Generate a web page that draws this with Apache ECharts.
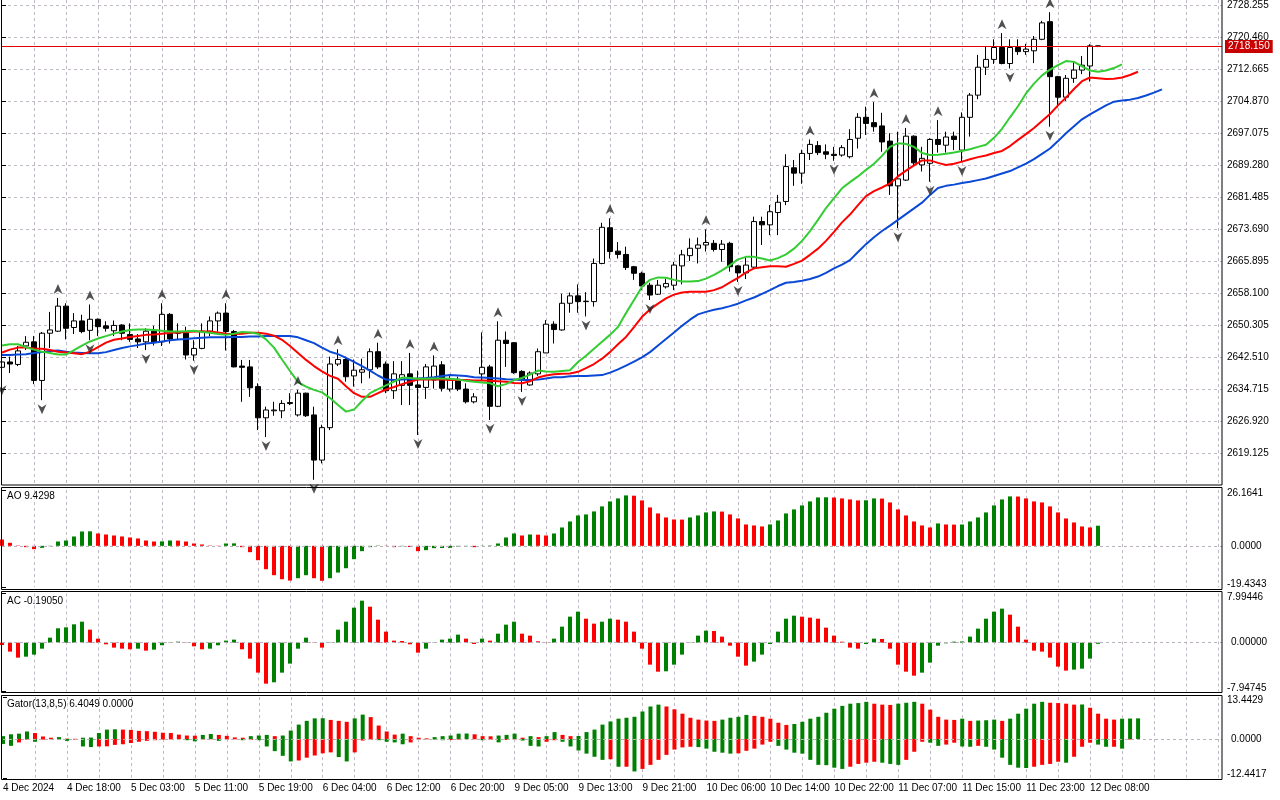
<!DOCTYPE html>
<html>
<head>
<meta charset="utf-8">
<title>XAUUSD H1</title>
<script src="https://cdn.jsdelivr.net/npm/echarts@6/dist/echarts.min.js"></script>
<style>
html, body { margin: 0; padding: 0; background: #fff; }
#chart { width: 1280px; height: 800px; }
</style>
</head>
<body>
<div id="chart"></div>
<script>
// ---- data (H1 bars, 4 Dec 10:00 .. 12 Dec 09:00) ----
var timeLabels = ['4 Dec 2024', '4 Dec 18:00', '5 Dec 03:00', '5 Dec 11:00', '5 Dec 19:00', '6 Dec 04:00',
    '6 Dec 12:00', '6 Dec 20:00', '9 Dec 05:00', '9 Dec 13:00', '9 Dec 21:00', '10 Dec 06:00',
    '10 Dec 14:00', '10 Dec 22:00', '11 Dec 07:00', '11 Dec 15:00', '11 Dec 23:00', '12 Dec 08:00'];

var priceTicks = ['2728.255', '2720.460', '2712.665', '2704.870', '2697.075', '2689.280', '2681.485',
    '2673.690', '2665.895', '2658.100', '2650.305', '2642.510', '2634.715', '2626.920', '2619.125'];

var bidPrice = 2718.15;

var open = [
    2640.0, 2641.3, 2640.7, 2645.2, 2646.2, 2636.8, 2648.3, 2648.8, 2654.9, 2649.7,
    2651.3, 2649.0, 2651.7, 2650.1, 2648.9, 2650.3, 2648.0, 2646.9, 2646.2, 2648.8,
    2646.2, 2652.9, 2648.7, 2648.3, 2643.0, 2644.6, 2648.8, 2651.3, 2653.2, 2648.7,
    2640.3, 2640.1, 2635.3, 2627.7, 2629.4, 2629.4, 2631.4, 2628.4, 2633.7, 2628.4,
    2617.4, 2625.3, 2640.8, 2641.9, 2637.9, 2638.8, 2639.4, 2643.8, 2640.8, 2634.3,
    2635.6, 2638.4, 2635.7, 2635.1, 2636.9, 2640.6, 2634.7, 2637.1, 2634.7, 2631.6,
    2638.4, 2640.1, 2630.5, 2646.6, 2646.0, 2639.0, 2635.7, 2638.4, 2643.5, 2650.5,
    2649.1, 2655.6, 2657.4, 2656.1, 2656.0, 2665.3, 2674.0, 2668.3, 2667.5, 2664.5,
    2662.9, 2660.0, 2657.8, 2659.6, 2660.0, 2664.7, 2667.2, 2669.0, 2669.8, 2670.2,
    2668.7, 2670.2, 2664.7, 2663.0, 2664.4, 2675.5, 2674.7, 2677.7, 2680.4, 2688.6,
    2687.3, 2692.1, 2694.0, 2692.5, 2691.9, 2691.7, 2691.3, 2695.8, 2700.9, 2699.6,
    2698.8, 2695.1, 2684.2, 2685.6, 2696.3, 2689.3, 2689.7, 2695.5, 2694.1, 2696.3,
    2692.9, 2700.9, 2706.3, 2713.1, 2715.0, 2717.9, 2714.0, 2717.9, 2716.9, 2717.1,
    2719.9, 2724.2, 2710.8, 2705.8, 2710.4, 2712.4, 2713.4, 2718.3
];
var close = [
    2641.3, 2640.8, 2644.0, 2646.1, 2636.8, 2648.3, 2649.1, 2654.9, 2649.5, 2651.3,
    2648.7, 2651.7, 2649.9, 2649.5, 2650.2, 2648.3, 2646.8, 2646.2, 2648.8, 2646.2,
    2652.9, 2646.9, 2648.3, 2643.0, 2644.6, 2648.8, 2651.3, 2653.2, 2648.7, 2640.1,
    2640.0, 2635.0, 2627.7, 2629.6, 2629.6, 2631.2, 2631.2, 2633.7, 2628.2, 2617.4,
    2625.3, 2640.8, 2641.9, 2637.7, 2639.3, 2639.4, 2643.8, 2640.1, 2634.3, 2638.4,
    2638.2, 2635.6, 2635.1, 2640.1, 2640.3, 2634.9, 2636.9, 2634.7, 2631.6, 2632.8,
    2640.0, 2630.5, 2646.6, 2645.8, 2638.7, 2636.9, 2638.6, 2643.8, 2650.5, 2649.2,
    2655.6, 2657.4, 2656.0, 2656.0, 2665.3, 2674.1, 2668.2, 2667.5, 2664.3, 2662.9,
    2659.8, 2657.6, 2660.0, 2660.4, 2664.9, 2667.4, 2669.0, 2669.8, 2670.4, 2668.7,
    2670.0, 2664.5, 2663.0, 2664.9, 2675.5, 2674.7, 2677.9, 2680.2, 2688.9, 2687.3,
    2692.1, 2694.3, 2692.3, 2691.9, 2691.6, 2693.5, 2695.5, 2700.9, 2699.4, 2698.6,
    2694.9, 2684.2, 2685.9, 2696.3, 2689.8, 2690.9, 2695.5, 2694.3, 2696.1, 2695.5,
    2700.9, 2706.3, 2713.1, 2715.0, 2717.9, 2714.0, 2717.9, 2716.9, 2717.5, 2719.9,
    2723.9, 2710.8, 2705.8, 2710.4, 2712.4, 2713.6, 2718.3, 2718.15
];
var low = [
    2636.6, 2638.6, 2640.3, 2644.2, 2635.9, 2632.0, 2644.7, 2648.6, 2646.8, 2648.1,
    2648.3, 2646.6, 2647.6, 2648.7, 2647.6, 2646.6, 2646.2, 2644.7, 2644.2, 2645.3,
    2645.2, 2645.8, 2646.8, 2641.9, 2641.6, 2644.4, 2647.6, 2648.7, 2644.1, 2640.0,
    2631.6, 2632.8, 2624.7, 2623.0, 2628.2, 2627.6, 2630.8, 2628.0, 2627.9, 2612.6,
    2616.6, 2624.7, 2640.3, 2636.5, 2635.3, 2636.1, 2637.3, 2639.6, 2633.7, 2632.3,
    2630.8, 2630.8, 2623.5, 2632.3, 2634.8, 2634.1, 2634.1, 2634.2, 2631.2, 2631.2,
    2636.9, 2627.2, 2630.3, 2640.1, 2638.4, 2634.0, 2635.5, 2637.9, 2643.5, 2645.8,
    2648.9, 2653.3, 2653.3, 2652.4, 2654.8, 2665.1, 2666.5, 2666.5, 2663.7, 2661.3,
    2658.8, 2656.4, 2657.6, 2659.2, 2658.8, 2660.2, 2665.9, 2665.3, 2668.2, 2668.2,
    2665.7, 2663.3, 2660.8, 2661.5, 2663.9, 2669.8, 2672.2, 2672.2, 2679.5, 2684.2,
    2684.7, 2690.5, 2691.7, 2690.7, 2690.3, 2691.3, 2690.9, 2693.3, 2696.6, 2697.4,
    2692.5, 2682.0, 2673.9, 2685.4, 2689.0, 2687.7, 2685.2, 2692.3, 2692.3, 2692.9,
    2690.0, 2696.2, 2705.3, 2711.2, 2713.9, 2713.8, 2712.8, 2716.1, 2716.1, 2714.1,
    2719.7, 2698.6, 2703.3, 2704.9, 2709.3, 2711.4, 2709.6, 2718.0
];
var high = [
    2642.0, 2642.6, 2645.2, 2647.6, 2647.6, 2648.6, 2653.5, 2656.9, 2655.6, 2653.2,
    2652.8, 2655.3, 2651.9, 2651.2, 2651.4, 2650.5, 2650.7, 2648.1, 2649.5, 2650.1,
    2655.6, 2653.2, 2650.7, 2649.9, 2646.6, 2650.7, 2652.4, 2653.6, 2655.6, 2649.1,
    2641.8, 2641.8, 2636.1, 2630.4, 2631.6, 2632.0, 2633.7, 2634.5, 2633.8, 2630.4,
    2626.0, 2642.6, 2644.4, 2642.6, 2641.9, 2642.1, 2644.6, 2646.0, 2641.4, 2641.5,
    2641.5, 2643.5, 2639.2, 2640.8, 2642.9, 2641.5, 2637.9, 2637.7, 2636.1, 2633.7,
    2648.5, 2640.6, 2651.2, 2648.7, 2646.1, 2639.3, 2639.0, 2644.6, 2651.5, 2651.2,
    2657.9, 2658.2, 2660.2, 2658.3, 2666.5, 2675.2, 2676.3, 2670.5, 2669.4, 2664.7,
    2663.3, 2660.6, 2661.3, 2661.6, 2665.7, 2668.6, 2671.4, 2671.6, 2673.6, 2671.0,
    2671.0, 2670.6, 2664.9, 2666.9, 2676.7, 2676.7, 2679.5, 2682.0, 2691.9, 2690.5,
    2693.0, 2695.5, 2695.1, 2694.3, 2693.7, 2694.1, 2698.0, 2701.9, 2703.5, 2704.6,
    2702.0, 2697.0, 2697.4, 2698.3, 2696.5, 2693.7, 2695.8, 2700.2, 2697.4, 2697.4,
    2702.1, 2706.8, 2716.1, 2718.1, 2719.9, 2721.4, 2719.9, 2719.9, 2718.8, 2720.7,
    2724.4, 2726.5, 2711.0, 2711.2, 2714.4, 2715.8, 2718.7, 2718.4
];

// Alligator lines, already shifted forward (jaw 8, teeth 5, lips 3 bars)
var jaw = [
    2643.0, 2643.0, 2643.1, 2643.2, 2643.5, 2643.7, 2644.0, 2644.1, 2643.8, 2643.6,
    2643.5, 2643.4, 2643.4, 2643.7, 2644.2, 2644.7, 2645.1, 2645.4, 2645.8, 2646.0,
    2646.3, 2646.6, 2646.8, 2646.9, 2647.1, 2647.2, 2647.3, 2647.3, 2647.3, 2647.4,
    2647.4, 2647.5, 2647.5, 2647.6, 2647.6, 2647.6, 2647.6, 2647.3, 2646.6, 2645.9,
    2644.8, 2643.8, 2643.2, 2642.3, 2641.3, 2640.3, 2639.2, 2638.0, 2637.0, 2636.9,
    2637.0, 2637.1, 2637.3, 2637.4, 2637.6, 2637.9, 2638.1, 2638.0, 2637.9, 2637.6,
    2637.5, 2637.4, 2637.3, 2637.1, 2637.0, 2636.9, 2636.9, 2637.0, 2637.3, 2637.6,
    2637.6, 2637.8, 2637.9, 2637.9, 2638.0, 2638.1, 2638.7, 2639.5, 2640.4, 2641.4,
    2642.4, 2643.7, 2645.3, 2646.9, 2648.5, 2650.1, 2651.6, 2652.9, 2653.5, 2654.0,
    2654.4, 2654.9, 2655.5, 2656.3, 2657.0, 2657.9, 2658.8, 2659.8, 2660.6, 2660.8,
    2661.1, 2661.5, 2662.1, 2663.0, 2664.1, 2665.0, 2666.1, 2668.1, 2670.0, 2671.7,
    2673.2, 2674.5, 2675.9, 2677.3, 2678.7, 2680.1, 2682.0, 2683.7, 2684.2, 2684.5,
    2684.9, 2685.2, 2685.6, 2686.0, 2686.6, 2687.2, 2687.8, 2688.7, 2689.6, 2690.7,
    2692.0, 2693.3, 2695.1, 2697.0, 2698.7, 2700.4, 2701.6, 2702.7, 2703.8, 2704.7,
    2705.0, 2705.2, 2705.6, 2706.2, 2706.9, 2707.7
];
var teeth = [
    2643.6, 2644.3, 2644.8, 2644.8, 2644.6, 2644.5, 2644.2, 2643.8, 2643.6, 2643.4,
    2643.2, 2643.8, 2644.9, 2646.0, 2646.7, 2647.0, 2647.4, 2647.6, 2647.9, 2648.0,
    2648.2, 2648.4, 2648.5, 2648.6, 2648.7, 2648.7, 2648.7, 2648.5, 2648.2, 2648.1,
    2648.2, 2648.4, 2648.4, 2648.2, 2647.7, 2646.7, 2645.2, 2643.5, 2641.8, 2640.3,
    2639.0, 2637.9, 2637.2, 2635.4, 2633.7, 2632.8, 2632.8, 2633.7, 2634.6, 2635.2,
    2635.9, 2636.5, 2637.0, 2637.1, 2637.0, 2637.0, 2636.9, 2636.9, 2636.9, 2636.8,
    2636.8, 2636.7, 2636.6, 2636.5, 2636.2, 2636.1, 2636.6, 2637.5, 2638.0, 2638.3,
    2638.4, 2638.5, 2638.9, 2639.8, 2640.8, 2642.1, 2643.7, 2645.6, 2647.4, 2649.8,
    2652.3, 2654.1, 2655.5, 2656.8, 2657.7, 2658.2, 2658.4, 2658.4, 2658.4, 2658.8,
    2659.5, 2660.7, 2661.8, 2663.1, 2664.1, 2664.4, 2664.6, 2664.6, 2664.5, 2665.2,
    2666.0, 2667.4, 2668.9, 2670.8, 2673.0, 2675.3, 2677.2, 2679.5, 2681.7, 2682.9,
    2683.8, 2684.8, 2686.5, 2687.9, 2689.2, 2690.4, 2690.4, 2689.8, 2689.3, 2689.6,
    2690.1, 2690.7, 2691.2, 2691.6, 2692.2, 2692.7, 2693.9, 2695.4, 2696.8, 2698.3,
    2700.0, 2701.7, 2703.8, 2705.7, 2707.8, 2709.7, 2710.6, 2710.4, 2710.2, 2710.3,
    2710.6, 2711.2, 2712.0
];
var lips = [
    2645.3, 2645.6, 2645.6, 2644.9, 2644.3, 2643.8, 2643.5, 2643.1, 2643.1, 2644.2,
    2645.3, 2646.3, 2647.0, 2647.6, 2648.2, 2648.7, 2649.1, 2649.2, 2649.2, 2649.1,
    2648.9, 2648.7, 2648.7, 2648.8, 2648.9, 2648.6, 2648.4, 2648.1, 2647.9, 2648.2,
    2648.6, 2648.5, 2648.2, 2646.8, 2644.8, 2641.9, 2639.1, 2636.4, 2635.3, 2634.5,
    2633.9, 2632.5, 2630.8, 2629.2, 2629.7, 2631.8, 2633.7, 2634.7, 2635.6, 2636.5,
    2637.5, 2637.4, 2637.2, 2637.2, 2637.3, 2637.3, 2637.2, 2637.0, 2636.7, 2636.5,
    2636.3, 2636.1, 2635.4, 2635.9, 2636.9, 2637.4, 2638.2, 2639.2, 2639.0, 2638.9,
    2639.1, 2639.3, 2641.3, 2642.8, 2644.5, 2646.2, 2647.9, 2649.8, 2653.2, 2656.4,
    2659.6, 2661.3, 2661.9, 2661.8, 2661.3, 2660.9, 2660.9, 2661.0, 2661.6, 2662.5,
    2663.6, 2664.9, 2666.3, 2666.9, 2666.9, 2666.5, 2666.0, 2666.6, 2667.5, 2668.9,
    2670.8, 2673.2, 2675.9, 2678.8, 2681.2, 2683.6, 2685.1, 2686.5, 2688.1, 2689.6,
    2691.5, 2693.7, 2694.6, 2694.4, 2693.7, 2692.2, 2691.7, 2691.8, 2692.0, 2692.3,
    2692.7, 2693.1, 2693.7, 2694.2, 2695.9, 2698.1, 2700.9, 2703.6, 2706.7, 2709.1,
    2711.1, 2712.5, 2713.6, 2714.6, 2714.4, 2713.3, 2712.3, 2712.0, 2712.3, 2712.9,
    2713.8
];

// bar indexes carrying a fractal arrow
var upFractals = [7, 11, 20, 28, 37, 42, 47, 51, 54, 62, 76, 88, 101, 109, 113, 117, 125, 131];
var downFractals = [0, 5, 11, 18, 24, 33, 39, 52, 61, 65, 73, 81, 92, 104, 112, 116, 120, 126, 131];

var ao = [
    2.97, 1.41, 0.16, -0.63, -1.56, -0.94, -0.16, 2.03, 2.50, 4.38,
    6.73, 6.80, 5.79, 5.32, 4.85, 4.38, 3.91, 3.44, 2.50, 2.03,
    2.10, 2.50, 2.45, 2.03, 1.10, 0.63, 0.16, 0.10, 1.10, 1.15,
    -0.63, -2.97, -6.73, -10.95, -13.77, -15.65, -16.28, -15.18, -13.77, -15.18,
    -16.40, -15.18, -12.52, -10.49, -6.26, -2.50, -0.63, 0.15, 0.08, -0.63,
    -0.18, -0.55, -2.50, -2.03, -1.10, -1.02, -0.95, -0.30, -0.20, -0.63,
    -0.10, 0.18, 1.10, 3.91, 5.79, 4.85, 5.32, 5.22, 4.85, 5.79,
    8.61, 11.42, 14.24, 14.71, 16.12, 18.47, 20.81, 22.22, 23.63, 23.50,
    21.28, 18.00, 15.18, 13.30, 12.36, 12.30, 13.30, 14.24, 15.65, 16.12,
    16.05, 14.71, 12.83, 10.02, 9.55, 9.08, 10.02, 11.89, 15.18, 17.06,
    18.94, 20.81, 22.69, 22.75, 22.65, 22.22, 21.75, 21.28, 21.35, 22.22,
    22.15, 20.34, 17.06, 14.24, 11.42, 9.55, 8.61, 10.49, 10.02, 9.95,
    10.00, 11.42, 13.30, 15.65, 18.94, 21.75, 23.16, 23.10, 22.22, 20.81,
    20.34, 18.47, 15.65, 12.83, 10.95, 9.08, 8.61, 9.43
];
var ac = [
    -0.38, -1.46, -2.44, -2.28, -1.95, -0.98, 0.81, 2.33, 2.49, 2.98,
    3.41, 2.11, 0.65, -0.27, -0.81, -0.98, -1.08, -0.98, -1.30, -1.14,
    -0.43, 0.05, 0.16, 0.05, -0.60, -1.08, -0.98, -0.43, 0.33, 0.49,
    -1.08, -2.60, -4.88, -6.67, -6.45, -4.88, -3.41, -0.98, 0.81, 0.05,
    -0.81, 0.05, 2.11, 3.41, 5.69, 6.83, 5.85, 3.74, 1.79, 0.33,
    0.27, -0.27, -1.63, -0.98, -0.05, 0.49, 0.65, 1.30, 0.65, -0.22,
    0.65, 0.33, 1.46, 2.93, 3.41, 1.46, 1.14, 0.22, -0.04, 0.65,
    2.60, 4.23, 5.04, 3.90, 3.09, 3.41, 3.90, 3.74, 3.41, 1.79,
    -0.98, -3.58, -4.72, -4.66, -3.58, -1.95, 0.05, 1.14, 1.95, 1.90,
    0.98, -0.49, -2.28, -3.74, -3.09, -1.95, -0.22, 1.79, 3.90, 4.39,
    4.23, 4.07, 3.90, 2.44, 1.14, 0.16, -0.81, -0.98, -0.22, 0.65,
    0.60, -0.98, -3.58, -4.72, -5.37, -4.88, -3.25, -0.49, -0.11, 0.16,
    0.19, 0.98, 2.28, 3.90, 5.04, 5.53, 4.55, 2.60, 0.49, -1.30,
    -1.46, -2.44, -3.90, -4.55, -4.39, -4.23, -2.60, -0.19
];
var gatorUp = [
    0.9, 1.5, 1.7, 2.4, 1.9, 0.8, 0.4, 0.6, 0.1, 0.05,
    0.4, 0.45, 1.9, 3.0, 3.1, 3.0, 2.9, 2.6, 2.5, 2.3,
    2.0, 1.9, 1.4, 1.1, 1.05, 1.3, 1.6, 1.3, 1.0, 0.5,
    0.4, 0.9, 1.1, 1.3, 0.9, 1.1, 2.7, 4.6, 5.8, 6.6,
    6.65, 6.1, 5.8, 5.5, 6.6, 7.8, 7.0, 4.3, 2.4, 1.4,
    1.7, 0.9, 0.4, 0.2, 0.6, 0.9, 1.1, 1.7, 1.75, 1.5,
    0.9, 0.85, 1.1, 1.3, 1.7, 0.4, 0.9, 0.6, 0.9, 2.2,
    1.3, 0.9, 0.95, 2.2, 3.0, 4.6, 5.6, 6.5, 6.8, 7.1,
    8.8, 10.4, 11.0, 10.4, 9.5, 8.1, 6.8, 6.2, 5.9, 5.8,
    6.2, 6.8, 7.1, 7.7, 7.4, 7.1, 6.5, 5.2, 4.5, 4.8,
    5.5, 6.5, 7.1, 8.4, 9.7, 10.6, 11.3, 11.5, 11.9, 11.3,
    11.0, 10.9, 11.3, 11.6, 11.9, 11.3, 9.4, 7.1, 6.2, 6.1,
    6.5, 5.8, 5.9, 6.0, 6.2, 5.8, 6.5, 8.1, 9.7, 11.3,
    11.9, 11.6, 11.5, 11.3, 11.0, 11.05, 10.0, 8.1, 6.5, 6.2,
    6.5, 6.55, 6.6
];
var gatorDown = [
    -1.6, -2.2, -1.1, -0.2, -0.9, -0.2, -0.1, -0.2, -0.6, -0.2,
    -2.4, -2.6, -2.4, -2.35, -1.9, -1.7, -1.3, -0.9, -0.6, -0.4,
    -0.2, -0.15, -0.1, -0.4, -0.75, -0.2, -0.1, -0.6, -0.2, -0.1,
    -0.4, -0.35, -0.4, -2.4, -3.9, -5.4, -7.2, -6.9, -6.0, -5.3,
    -4.6, -4.3, -5.8, -7.2, -4.3, -0.5, -0.3, -0.4, -0.9, -1.1,
    -1.7, -1.1, -0.2, -0.1, -0.2, -0.4, -0.35, -0.2, -0.1, -0.1,
    -0.4, -0.3, -1.1, -0.3, -0.2, -0.5, -2.2, -2.4, -0.9, -0.4,
    -0.9, -2.4, -3.7, -4.7, -5.7, -6.7, -6.5, -8.9, -8.9, -10.4,
    -9.6, -8.3, -6.7, -5.1, -3.4, -2.7, -2.5, -2.6, -3.1, -4.1,
    -4.4, -4.7, -4.6, -3.8, -3.1, -1.8, -0.9, -2.2, -3.4, -4.4,
    -4.7, -6.7, -8.3, -8.4, -9.2, -9.6, -8.9, -8.0, -7.6, -7.3,
    -7.6, -8.0, -8.3, -6.7, -4.1, -0.9, -1.2, -2.2, -1.8, -1.2,
    -2.4, -2.5, -2.2, -2.5, -3.4, -6.0, -8.3, -9.2, -9.3, -8.9,
    -8.3, -8.0, -7.3, -7.6, -5.7, -2.5, -1.2, -1.8, -2.5, -2.5,
    -3.1, -0.2
];

// ---- styling ----
var FONT = 'Liberation Sans';
var FS = 10;
var GREEN = '#008000';
var RED = '#ff0000';
var gridLine = { color: '#c2b9c6', width: 1, type: [3, 3] };

function pairs(arr) {
    return arr.map(function (v, i) { return [i, v]; });
}

// MT style colouring: green when the bar grew against the previous one
function risingColor(arr, useAbs, firstColor) {
    return function (p) {
        var i = p.dataIndex;
        if (i === 0) return firstColor;
        var a = useAbs ? Math.abs(arr[i]) : arr[i];
        var b = useAbs ? Math.abs(arr[i - 1]) : arr[i - 1];
        return a > b ? GREEN : RED;
    };
}

var labelRich = {
    t: { padding: [7, 0, 0, 0], fontSize: FS, fontFamily: FONT, color: '#000' },
    b: { padding: [0, 0, 7, 0], fontSize: FS, fontFamily: FONT, color: '#000' }
};

// bar i sits at value i; value 0 is at x = 2, 8px per bar, right frame at x = 1222
function xAxisFor(idx) {
    return {
        type: 'value', gridIndex: idx, min: 0, max: 152.5, interval: 4,
        axisLine: { show: false }, axisTick: { show: false },
        axisLabel: {
            show: idx === 3, align: 'left', margin: 5, color: '#000',
            fontSize: FS, fontFamily: FONT, showMaxLabel: false,
            formatter: function (v) { return v % 8 === 0 && timeLabels[v / 8] ? timeLabels[v / 8] : ''; }
        },
        splitLine: { show: true, showMinLine: false, showMaxLine: false, lineStyle: gridLine }
    };
}

// sub-window scale: only the two extremes come from the axis, zero comes from a mark line
function subYAxis(idx, min, max, digits) {
    return {
        type: 'value', gridIndex: idx, position: 'right', min: min, max: max,
        interval: (max - min) * 1.0001,
        axisLine: { show: false },
        axisTick: { show: true, length: 4, lineStyle: { color: '#000' } },
        axisLabel: {
            margin: 5, color: '#000', fontSize: FS, fontFamily: FONT, rich: labelRich,
            formatter: function (v) {
                if (Math.abs(v - max) < 1e-6) return '{t|' + max.toFixed(digits) + '}';
                if (Math.abs(v - min) < 1e-6) return '{b|' + min.toFixed(digits) + '}';
                return '';
            }
        },
        splitLine: { show: false }
    };
}

function zeroLine(digits) {
    return {
        silent: true, symbol: 'none', animation: false,
        data: [{ yAxis: 0 }],
        lineStyle: { color: '#b9b0bd', width: 1, type: [3, 3] },
        label: { position: 'end', distance: 9, formatter: (0).toFixed(digits),
            color: '#000', fontSize: FS, fontFamily: FONT }
    };
}

var candleData = open.map(function (o, i) { return [i, o, close[i], low[i], high[i]]; });

var option = {
    animation: false,
    backgroundColor: '#fff',
    grid: [
        { left: 2, width: 1220, top: 0, height: 485 },
        { left: 2, width: 1220, top: 490, height: 97.3 },
        { left: 2, width: 1220, top: 593.5, height: 98 },
        { left: 2, width: 1220, top: 697, height: 80.8 }
    ],
    xAxis: [xAxisFor(0), xAxisFor(1), xAxisFor(2), xAxisFor(3)],
    yAxis: [
        {
            type: 'value', gridIndex: 0, position: 'right', min: 2611.33, max: 2729.47, interval: 7.795,
            axisLine: { show: false },
            axisTick: { show: true, length: 4, lineStyle: { color: '#000' } },
            axisLabel: {
                margin: 5, color: '#000', fontSize: FS, fontFamily: FONT,
                showMinLabel: false, showMaxLabel: false,
                formatter: function (v) {
                    for (var k = 0; k < priceTicks.length; k++) {
                        if (Math.abs(parseFloat(priceTicks[k]) - v) < 0.02) return priceTicks[k];
                    }
                    return '';
                }
            },
            splitLine: { show: true, showMinLine: false, showMaxLine: false, lineStyle: gridLine }
        },
        subYAxis(1, -19.4343, 26.1641, 4),
        subYAxis(2, -7.94745, 7.99446, 5),
        subYAxis(3, -12.4417, 13.4429, 4)
    ],
    graphic: [
        { type: 'rect', silent: true, z: 100, shape: { x: 1.5, y: -1, width: 1220.5, height: 486 },
          style: { fill: 'none', stroke: '#000', lineWidth: 1 } },
        { type: 'rect', silent: true, z: 100, shape: { x: 1.5, y: 487.5, width: 1220.5, height: 102 },
          style: { fill: 'none', stroke: '#000', lineWidth: 1 } },
        { type: 'rect', silent: true, z: 100, shape: { x: 1.5, y: 591.5, width: 1220.5, height: 101 },
          style: { fill: 'none', stroke: '#000', lineWidth: 1 } },
        { type: 'rect', silent: true, z: 100, shape: { x: 1.5, y: 695.5, width: 1220.5, height: 84 },
          style: { fill: 'none', stroke: '#000', lineWidth: 1 } },
        { type: 'text', left: 7, top: 491, z: 100,
          style: { text: 'AO 9.4298', fill: '#000', font: FS + 'px "' + FONT + '"' } },
        { type: 'text', left: 7, top: 596, z: 100,
          style: { text: 'AC -0.19050', fill: '#000', font: FS + 'px "' + FONT + '"' } },
        { type: 'text', left: 7, top: 699, z: 100,
          style: { text: 'Gator(13,8,5) 6.4049 0.0000', fill: '#000', font: FS + 'px "' + FONT + '"' } }
    ],
    series: [
        {
            type: 'candlestick', name: 'XAUUSD', xAxisIndex: 0, yAxisIndex: 0,
            dimensions: ['idx', 'open', 'close', 'lowest', 'highest'],
            encode: { x: 'idx', y: ['open', 'close', 'lowest', 'highest'] },
            data: candleData,
            barWidth: 5,
            itemStyle: { color: '#fff', color0: '#000', borderColor: '#000', borderColor0: '#000', borderWidth: 1 },
            markLine: {
                silent: true, symbol: 'none', animation: false,
                data: [{ yAxis: bidPrice }],
                lineStyle: { color: '#e00000', type: 'solid', width: 1 },
                label: {
                    position: 'end', distance: 3, formatter: bidPrice.toFixed(3),
                    color: '#fff', backgroundColor: '#c80000', padding: [2, 3, 1, 3],
                    fontSize: FS, fontFamily: FONT
                }
            }
        },
        { type: 'line', name: 'Jaw', xAxisIndex: 0, yAxisIndex: 0, data: pairs(jaw), showSymbol: false,
          lineStyle: { color: '#0a48d6', width: 2 }, z: 3 },
        { type: 'line', name: 'Teeth', xAxisIndex: 0, yAxisIndex: 0, data: pairs(teeth), showSymbol: false,
          lineStyle: { color: '#ff0000', width: 2 }, z: 3 },
        { type: 'line', name: 'Lips', xAxisIndex: 0, yAxisIndex: 0, data: pairs(lips), showSymbol: false,
          lineStyle: { color: '#33cc33', width: 2 }, z: 3 },
        {
            type: 'scatter', name: 'Fractal up', xAxisIndex: 0, yAxisIndex: 0,
            data: upFractals.map(function (i) { return [i, high[i]]; }),
            symbol: 'path://M5,0 L10,10 L5,7 L0,10 Z', symbolSize: [9, 10], symbolOffset: [0, -9],
            itemStyle: { color: '#262626' }, z: 4
        },
        {
            type: 'scatter', name: 'Fractal down', xAxisIndex: 0, yAxisIndex: 0,
            data: downFractals.map(function (i) { return [i, low[i]]; }),
            symbol: 'path://M0,0 L5,3 L10,0 L5,10 Z', symbolSize: [9, 10], symbolOffset: [0, 9],
            itemStyle: { color: '#262626' }, z: 4
        },
        { type: 'bar', name: 'AO', xAxisIndex: 1, yAxisIndex: 1, data: pairs(ao), barWidth: 4,
          itemStyle: { color: risingColor(ao, false, RED) }, markLine: zeroLine(4) },
        { type: 'bar', name: 'AC', xAxisIndex: 2, yAxisIndex: 2, data: pairs(ac), barWidth: 4,
          itemStyle: { color: risingColor(ac, false, RED) }, markLine: zeroLine(5) },
        { type: 'bar', name: 'Gator up', xAxisIndex: 3, yAxisIndex: 3, data: pairs(gatorUp), barWidth: 4,
          barGap: '-100%', itemStyle: { color: risingColor(gatorUp, false, GREEN) }, markLine: zeroLine(4) },
        { type: 'bar', name: 'Gator down', xAxisIndex: 3, yAxisIndex: 3, data: pairs(gatorDown), barWidth: 4,
          barGap: '-100%', itemStyle: { color: risingColor(gatorDown, true, GREEN) } }
    ]
};

var chart = echarts.init(document.getElementById('chart'), null, { renderer: 'canvas' });
chart.setOption(option);
</script>
</body>
</html>
